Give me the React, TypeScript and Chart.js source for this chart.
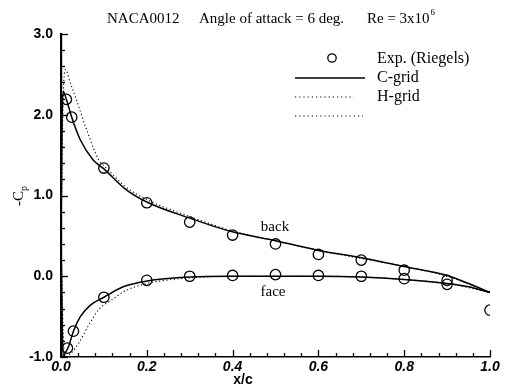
import { useEffect, useRef } from 'react';
import { Chart, registerables } from 'chart.js';

Chart.register(...registerables);

// Title pieces
const TITLE_FOIL = 'NACA0012';
const TITLE_ANGLE = 'Angle of attack = 6 deg.';
const TITLE_RE = 'Re = 3x10';
const TITLE_RE_EXP = '6';

// Legend entries
const LEGEND_EXP = 'Exp. (Riegels)';
const LEGEND_C = 'C-grid';
const LEGEND_H = 'H-grid';

// Axis ticks
const X_TICKS = [0, 0.2, 0.4, 0.6, 0.8, 1.0];
const Y_TICKS = [-1, 0, 1, 2, 3];

// C-grid, upper surface (back)
const cBackX = [0, 0.002, 0.005, 0.0125, 0.025, 0.045, 0.075, 0.1, 0.15, 0.2, 0.3, 0.4, 0.5, 0.6, 0.7, 0.8, 0.9, 0.95, 1.0];
const cBackCp = [0.4, 1.7, 2.29, 2.19, 1.97, 1.69, 1.44, 1.33, 1.08, 0.92, 0.72, 0.55, 0.44, 0.32, 0.23, 0.12, 0.01, -0.09, -0.2];

// C-grid, lower surface (face)
const cFaceX = [0, 0.005, 0.01, 0.017, 0.029, 0.045, 0.068, 0.1, 0.145, 0.2, 0.3, 0.4, 0.5, 0.6, 0.7, 0.8, 0.9, 0.95, 1.0];
const cFaceCp = [0.4, -1.0, -0.95, -0.88, -0.68, -0.5, -0.36, -0.26, -0.13, -0.06, -0.01, 0.0, 0.0, 0.0, -0.01, -0.04, -0.09, -0.13, -0.2];

// H-grid, upper surface (back)
const hBackX = [0, 0.003, 0.006, 0.011, 0.02, 0.033, 0.06, 0.09, 0.1, 0.15, 0.2, 0.3, 0.4, 0.5, 0.6, 0.7, 0.8, 0.9, 1.0];
const hBackCp = [0.4, 1.6, 2.35, 2.56, 2.42, 2.23, 1.81, 1.42, 1.37, 1.11, 0.95, 0.74, 0.56, 0.44, 0.32, 0.22, 0.12, 0.0, -0.2];

// H-grid, lower surface (face)
const hFaceX = [0, 0.008, 0.02, 0.04, 0.064, 0.09, 0.114, 0.15, 0.2, 0.3, 0.4, 0.5, 0.6, 0.7, 0.8, 0.9, 1.0];
const hFaceCp = [0.4, -1.0, -0.97, -0.84, -0.61, -0.4, -0.31, -0.18, -0.09, -0.02, 0.0, 0.0, 0.0, -0.01, -0.04, -0.09, -0.2];

// Experiment (Riegels)
const expBackX = [0.0125, 0.025, 0.1, 0.2, 0.3, 0.4, 0.5, 0.6, 0.7, 0.8, 0.9];
const expBackCp = [2.19, 1.97, 1.34, 0.91, 0.67, 0.51, 0.40, 0.27, 0.2, 0.075, -0.05];
const expFaceX = [0.015, 0.029, 0.1, 0.2, 0.3, 0.4, 0.5, 0.6, 0.7, 0.8, 0.9, 1.0];
const expFaceCp = [-0.89, -0.68, -0.26, -0.05, 0.0, 0.01, 0.02, 0.01, 0.0, -0.03, -0.10, -0.42];

const zip = (xs: number[], ys: number[]) => xs.map((x, i) => ({ x, y: ys[i] }));

const SERIF = "'Liberation Serif', 'DejaVu Serif', serif";
const SANS = "'Liberation Sans', Arial, sans-serif";

const decorations = {
  id: 'decorations',
  afterDraw(chart: any) {
    const { ctx, chartArea } = chart;
    const xs = chart.scales.x;
    const ys = chart.scales.y;
    ctx.save();

    // inward tick marks
    ctx.strokeStyle = '#000';
    ctx.lineWidth = 1.3;
    for (let i = 0; i <= 25; i++) {
      const px = Math.round(xs.getPixelForValue(i * 0.04)) + 0.5;
      const len = i % 5 === 0 ? 7 : 4;
      ctx.beginPath();
      ctx.moveTo(px, chartArea.bottom);
      ctx.lineTo(px, chartArea.bottom - len);
      ctx.stroke();
    }
    for (let i = 0; i <= 20; i++) {
      const py = Math.round(ys.getPixelForValue(-1 + i * 0.2)) + 0.5;
      const len = i % 5 === 0 ? 7 : 4;
      ctx.beginPath();
      ctx.moveTo(chartArea.left, py);
      ctx.lineTo(chartArea.left + len, py);
      ctx.stroke();
    }

    ctx.fillStyle = '#000';
    ctx.textBaseline = 'alphabetic';
    ctx.textAlign = 'left';

    // title
    ctx.font = `15px ${SERIF}`;
    ctx.fillText(TITLE_FOIL, 107, 23);
    ctx.fillText(TITLE_ANGLE, 199, 23);
    ctx.fillText(TITLE_RE, 367, 23);
    const reW = ctx.measureText(TITLE_RE).width;
    ctx.font = `9px ${SERIF}`;
    ctx.fillText(TITLE_RE_EXP, 367 + reW + 1, 15);

    // legend
    ctx.font = `16px ${SERIF}`;
    ctx.textBaseline = 'middle';
    ctx.fillText(LEGEND_EXP, 377, 59);
    ctx.fillText(LEGEND_C, 377, 78);
    ctx.fillText(LEGEND_H, 377, 97);
    ctx.lineWidth = 1.3;
    ctx.beginPath();
    ctx.arc(332, 58, 4.2, 0, Math.PI * 2);
    ctx.stroke();
    ctx.lineWidth = 1.5;
    ctx.beginPath();
    ctx.moveTo(295, 78);
    ctx.lineTo(365, 78);
    ctx.stroke();
    ctx.lineWidth = 1;
    ctx.setLineDash([1.2, 3]);
    ctx.beginPath();
    ctx.moveTo(295, 97);
    ctx.lineTo(354, 97);
    ctx.moveTo(295, 116);
    ctx.lineTo(363, 116);
    ctx.stroke();
    ctx.setLineDash([]);

    // surface labels
    ctx.font = `15px ${SERIF}`;
    ctx.textAlign = 'center';
    ctx.fillText('back', 275, 227);
    ctx.fillText('face', 273, 292);

    // x axis title
    ctx.font = `bold 14px ${SANS}`;
    ctx.fillText('x/c', 243, 380);

    // y axis title: -Cp, rotated
    ctx.translate(19, 196);
    ctx.rotate(-Math.PI / 2);
    ctx.textAlign = 'left';
    ctx.font = `15px ${SERIF}`;
    const main = '-C';
    const mw = ctx.measureText(main).width;
    ctx.font = `10px ${SERIF}`;
    const sw = ctx.measureText('p').width;
    const x0 = -(mw + sw) / 2;
    ctx.font = `15px ${SERIF}`;
    ctx.textBaseline = 'middle';
    ctx.fillText(main, x0, 0);
    ctx.font = `10px ${SERIF}`;
    ctx.fillText('p', x0 + mw, 5);

    ctx.restore();
  },
};

export default function App() {
  const ref = useRef<HTMLCanvasElement | null>(null);

  useEffect(() => {
    if (!ref.current) return;
    const lineBase = {
      showLine: true,
      pointRadius: 0,
      borderColor: '#000',
      backgroundColor: '#000',
      cubicInterpolationMode: 'monotone' as const,
      fill: false,
    };
    const chart = new Chart(ref.current, {
      type: 'scatter',
      data: {
        datasets: [
          { ...lineBase, label: 'H-grid back', data: zip(hBackX, hBackCp), borderWidth: 1.1, borderDash: [1.2, 2.5] },
          { ...lineBase, label: 'H-grid face', data: zip(hFaceX, hFaceCp), borderWidth: 1.1, borderDash: [1.2, 2.5] },
          { ...lineBase, label: 'C-grid back', data: zip(cBackX, cBackCp), borderWidth: 1.5 },
          { ...lineBase, label: 'C-grid face', data: zip(cFaceX, cFaceCp), borderWidth: 1.5 },
          {
            label: 'Exp. back',
            data: zip(expBackX, expBackCp),
            pointRadius: 5.2,
            pointBorderWidth: 1.3,
            borderColor: '#000',
            backgroundColor: 'rgba(0,0,0,0)',
            clip: 0,
          },
          {
            label: 'Exp. face',
            data: zip(expFaceX, expFaceCp),
            pointRadius: 5.2,
            pointBorderWidth: 1.3,
            borderColor: '#000',
            backgroundColor: 'rgba(0,0,0,0)',
            clip: 0,
          },
        ],
      },
      options: {
        responsive: false,
        animation: false,
        events: [],
        layout: { padding: { top: 34, right: 16, left: 0, bottom: 0 } },
        plugins: { legend: { display: false }, tooltip: { enabled: false }, title: { display: false } },
        scales: {
          x: {
            type: 'linear',
            min: 0,
            max: 1,
            afterBuildTicks: (s: any) => { s.ticks = X_TICKS.map((v) => ({ value: v })); },
            afterFit: (s: any) => { s.height = 30; },
            ticks: {
              color: '#000',
              font: { family: SANS, size: 14, weight: 'bold', style: 'italic' },
              padding: 2,
              maxRotation: 0,
              autoSkip: false,
              callback: (v: any) => Number(v).toFixed(1),
            },
            grid: { display: false, drawTicks: false, tickLength: 0 },
            border: { display: true, color: '#000', width: 1.6 },
          },
          y: {
            type: 'linear',
            min: -1,
            max: 3,
            afterBuildTicks: (s: any) => { s.ticks = Y_TICKS.map((v) => ({ value: v })); },
            afterFit: (s: any) => { s.width = 61; },
            ticks: {
              color: '#000',
              font: { family: SANS, size: 14, weight: 'bold' },
              padding: 8,
              autoSkip: false,
              callback: (v: any) => Number(v).toFixed(1),
            },
            grid: { display: false, drawTicks: false, tickLength: 0 },
            border: { display: true, color: '#000', width: 2.2 },
          },
        },
      },
      plugins: [decorations],
    } as any);
    return () => chart.destroy();
  }, []);

  return (
    <div style={{ position: 'absolute', left: 0, top: 0, width: 506, height: 387, background: '#fff' }}>
      <canvas ref={ref} width={506} height={387} style={{ display: 'block' }} />
    </div>
  );
}
